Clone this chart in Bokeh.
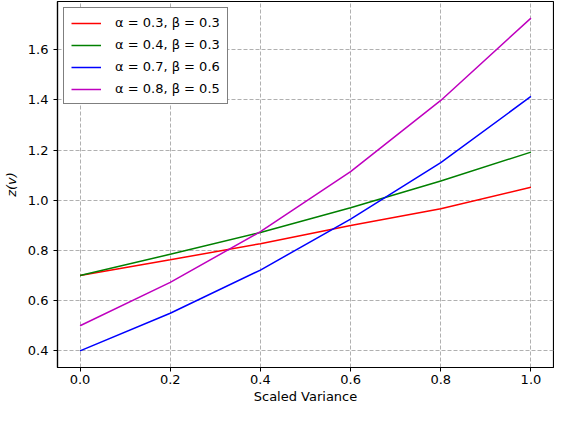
from bokeh.plotting import figure
from bokeh.models import FixedTicker, NumeralTickFormatter, Legend, LegendItem
from bokeh.embed import file_html
from bokeh.resources import INLINE

# data
x = [0.0, 0.2, 0.4, 0.6, 0.8, 1.0]
z_a3_b3 = [0.70, 0.763, 0.827, 0.900, 0.966, 1.052]
z_a4_b3 = [0.70, 0.785, 0.872, 0.970, 1.077, 1.192]
z_a7_b6 = [0.40, 0.550, 0.722, 0.925, 1.150, 1.414]
z_a8_b5 = [0.50, 0.673, 0.875, 1.114, 1.398, 1.726]

labels = ["α = 0.3, β = 0.3", "α = 0.4, β = 0.3",
          "α = 0.7, β = 0.6", "α = 0.8, β = 0.5"]
colors = ["#ff0000", "#008000", "#0000ff", "#bf00bf"]
series = [z_a3_b3, z_a4_b3, z_a7_b6, z_a8_b5]

x_ticks = [0.0, 0.2, 0.4, 0.6, 0.8, 1.0]
y_ticks = [0.4, 0.6, 0.8, 1.0, 1.2, 1.4, 1.6]

FONT = "DejaVu Sans"

p = figure(width=554, height=406, output_backend="svg", toolbar_location=None,
           x_range=(-0.05, 1.05), y_range=(0.3337, 1.7923),
           x_axis_label="Scaled Variance", y_axis_label="z(v)")
p.min_border_left = 10
p.min_border_right = 1
p.min_border_top = 1
p.min_border_bottom = 0
p.outline_line_color = "black"
p.outline_line_width = 1.2
p.background_fill_color = "white"

items = []
for ys, c, lab in zip(series, colors, labels):
    r = p.line(x, ys, line_color=c, line_width=1.5)
    items.append(LegendItem(label=lab, renderers=[r]))

for ax in (p.xaxis[0], p.yaxis[0]):
    ax.major_label_text_font = FONT
    ax.major_label_text_font_size = "13px"
    ax.major_label_text_color = "black"
    ax.axis_label_text_font = FONT
    ax.axis_label_text_font_size = "13px"
    ax.axis_label_text_font_style = "normal"
    ax.axis_label_text_color = "black"
    ax.axis_line_color = "black"
    ax.axis_line_width = 1.2
    ax.major_tick_line_color = "black"
    ax.major_tick_in = 0
    ax.major_tick_out = 4
    ax.minor_tick_line_color = None
    ax.formatter = NumeralTickFormatter(format="0.0")

p.xaxis.ticker = FixedTicker(ticks=x_ticks)
p.yaxis.ticker = FixedTicker(ticks=y_ticks)
p.xaxis.major_label_standoff = 3
p.xaxis.axis_label_standoff = 2
p.yaxis.major_label_standoff = 5
p.yaxis.axis_label_standoff = 6
p.yaxis.axis_label_text_font_style = "italic"

p.xgrid.ticker = FixedTicker(ticks=x_ticks)
p.ygrid.ticker = FixedTicker(ticks=y_ticks)
for g in (p.xgrid, p.ygrid):
    g.grid_line_color = "#b0b0b0"
    g.grid_line_dash = "4 2"
    g.grid_line_width = 1

legend = Legend(items=items, location="top_left")
legend.label_text_font = FONT
legend.label_text_font_size = "13px"
legend.label_text_color = "black"
legend.border_line_color = "black"
legend.border_line_width = 1
legend.background_fill_alpha = 1
legend.glyph_width = 30
legend.glyph_height = 14
legend.spacing = 7
legend.padding = 7
legend.margin = 6
legend.label_standoff = 14
p.add_layout(legend)

open("out.html", "w").write(file_html(p, INLINE))
